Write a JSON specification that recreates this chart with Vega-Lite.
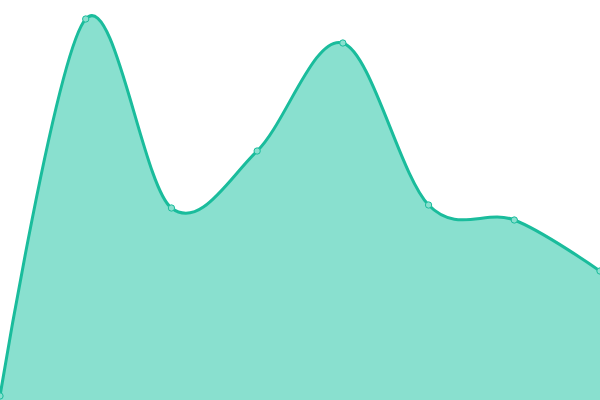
{
  "$schema": "https://vega.github.io/schema/vega-lite/v6.json",
  "width": 600,
  "height": 400,
  "autosize": {"type": "none"},
  "padding": 0,
  "data": {
    "values": [
      {"i": 0, "v": 4},
      {"i": 1, "v": 381},
      {"i": 2, "v": 192},
      {"i": 3, "v": 249},
      {"i": 4, "v": 357},
      {"i": 5, "v": 195},
      {"i": 6, "v": 180},
      {"i": 7, "v": 129}
    ]
  },
  "encoding": {
    "x": {"field": "i", "type": "quantitative", "scale": {"domain": [0, 7], "nice": false, "zero": false}, "axis": null},
    "y": {"field": "v", "type": "quantitative", "scale": {"domain": [0, 400], "nice": false}, "axis": null}
  },
  "layer": [
    {
      "mark": {"type": "area", "interpolate": "cardinal", "fill": "#89e0cf", "fillOpacity": 1, "line": {"color": "#1abc9c", "strokeWidth": 3}}
    },
    {
      "mark": {"type": "point", "filled": true, "size": 40, "fill": "#89e0cf", "stroke": "#1abc9c", "strokeWidth": 1, "opacity": 1}
    }
  ],
  "config": {"view": {"stroke": null}}
}
